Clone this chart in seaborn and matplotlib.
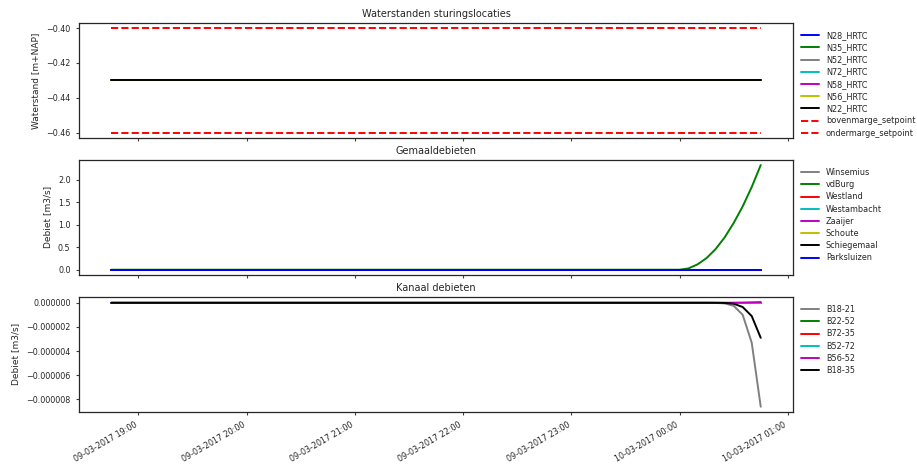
import numpy as np
import pandas as pd
import matplotlib
matplotlib.use("Agg")
import matplotlib.pyplot as plt
import matplotlib.dates as mdates
import matplotlib.ticker as mticker
import seaborn as sns

# ---- data ----
times = pd.date_range("2017-03-09 18:45", "2017-03-10 00:45", freq="5min")
n = len(times)  # 73

level_names = ["N28_HRTC", "N35_HRTC", "N52_HRTC", "N72_HRTC", "N58_HRTC", "N56_HRTC", "N22_HRTC"]
level_colors = ["blue", "green", "gray", "c", "m", "y", "black"]
level_value = -0.43
upper_setpoint = -0.40
lower_setpoint = -0.46

pump_names = ["Winsemius", "vdBurg", "Westland", "Westambacht", "Zaaijer", "Schoute", "Schiegemaal", "Parksluizen"]
pump_colors = ["gray", "green", "red", "c", "m", "y", "black", "blue"]
# vdBurg rises after midnight (values at 00:00 ... 00:45, 5-min steps)
vdburg_tail = [0.0, 0.03, 0.12, 0.26, 0.46, 0.72, 1.04, 1.41, 1.84, 2.33]

canal_names = ["B18-21", "B22-52", "B72-35", "B52-72", "B56-52", "B18-35"]
canal_colors = ["gray", "green", "red", "c", "m", "black"]
# last values (00:20 ... 00:45)
b1821_tail = [-0.01e-6, -0.05e-6, -0.25e-6, -1.0e-6, -3.3e-6, -8.6e-6]
b1835_tail = [0.0, -0.01e-6, -0.08e-6, -0.35e-6, -1.1e-6, -2.9e-6]
b5652_tail = [0.0, 0.0, 0.01e-6, 0.02e-6, 0.04e-6, 0.06e-6]

# ---- build series ----
levels = {nm: [level_value] * n for nm in level_names}
pumps = {nm: [0.0] * n for nm in pump_names}
pumps["vdBurg"] = [0.0] * (n - len(vdburg_tail)) + vdburg_tail
canals = {nm: [0.0] * n for nm in canal_names}
canals["B18-21"] = [0.0] * (n - len(b1821_tail)) + b1821_tail
canals["B18-35"] = [0.0] * (n - len(b1835_tail)) + b1835_tail
canals["B56-52"] = [0.0] * (n - len(b5652_tail)) + b5652_tail

sns.set_style("ticks")
plt.rcParams["font.family"] = ["DejaVu Sans"]
plt.rcParams["xtick.major.size"] = 2.5
plt.rcParams["ytick.major.size"] = 2.5
plt.rcParams["axes.linewidth"] = 0.9

TICK = 5.8
LAB = 6.5
TIT = 7.0
LEG = 5.9


def fmt(decimals):
    def f(x, pos):
        if abs(x) < 10 ** (-decimals - 2):
            x = 0.0
        return f"{x:.{decimals}f}".replace("-", "\u2212")
    return mticker.FuncFormatter(f)


fig, axes = plt.subplots(3, 1, figsize=(9.17, 4.66), dpi=100, sharex=True)
fig.subplots_adjust(left=0.086, right=0.865, top=0.951, bottom=0.116, hspace=0.19)

lw = 1.4
ax = axes[0]
for nm, c in zip(level_names, level_colors):
    sns.lineplot(x=times, y=levels[nm], color=c, label=nm, ax=ax, lw=lw)
sns.lineplot(x=times, y=[upper_setpoint] * n, color="red", label="bovenmarge_setpoint", ax=ax, lw=lw, linestyle="--")
sns.lineplot(x=times, y=[lower_setpoint] * n, color="red", label="ondermarge_setpoint", ax=ax, lw=lw, linestyle="--")
ax.set_title("Waterstanden sturingslocaties", fontsize=TIT, pad=4)
ax.set_ylabel("Waterstand [m+NAP]", fontsize=LAB)
ax.yaxis.set_major_locator(mticker.MultipleLocator(0.02))
ax.yaxis.set_major_formatter(fmt(2))

ax = axes[1]
for nm, c in zip(pump_names, pump_colors):
    sns.lineplot(x=times, y=pumps[nm], color=c, label=nm, ax=ax, lw=lw)
ax.set_title("Gemaaldebieten", fontsize=TIT, pad=4)
ax.set_ylabel("Debiet [m3/s]", fontsize=LAB)
ax.yaxis.set_major_locator(mticker.MultipleLocator(0.5))
ax.yaxis.set_major_formatter(fmt(1))

ax = axes[2]
for nm, c in zip(canal_names, canal_colors):
    sns.lineplot(x=times, y=canals[nm], color=c, label=nm, ax=ax, lw=lw)
ax.set_title("Kanaal debieten", fontsize=TIT, pad=4)
ax.set_ylabel("Debiet [m3/s]", fontsize=LAB)
ax.yaxis.set_major_locator(mticker.MultipleLocator(2e-6))
ax.yaxis.set_major_formatter(fmt(6))

for ax in axes:
    ax.legend(loc="upper left", bbox_to_anchor=(1.0, 1.0), frameon=False, fontsize=LEG,
              labelspacing=0.39, handlelength=2.2, borderaxespad=0.6)
    ax.tick_params(labelsize=TICK, colors="0.25", labelcolor="0.15")
    ax.set_xlabel("")

axes[2].xaxis.set_major_locator(mdates.HourLocator())
axes[2].xaxis.set_major_formatter(mdates.DateFormatter("%d-%m-%Y %H:%M"))
for lab in axes[2].get_xticklabels():
    lab.set_rotation(30)
    lab.set_ha("right")

fig.savefig("out.png", dpi=100)
